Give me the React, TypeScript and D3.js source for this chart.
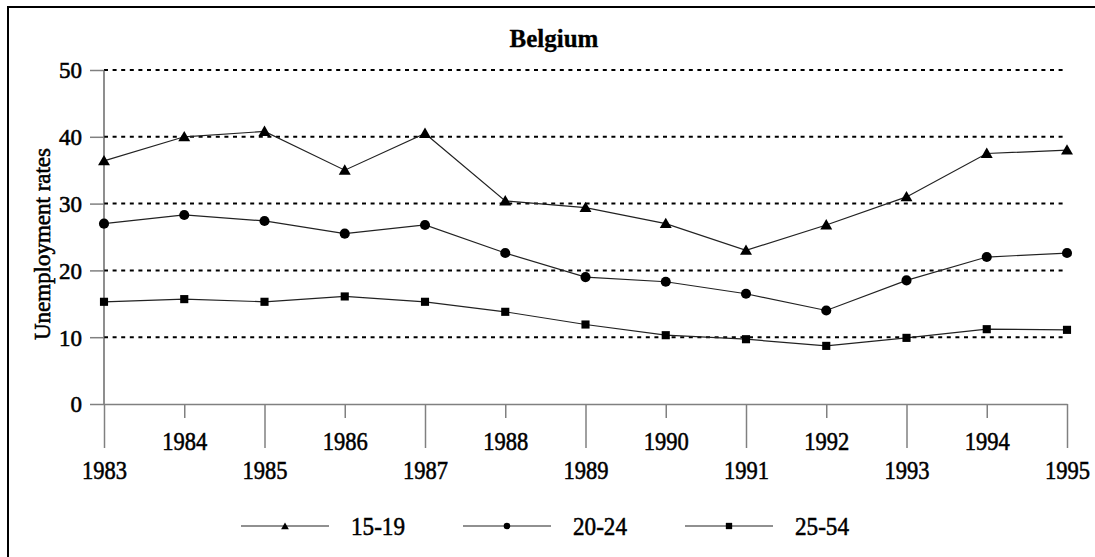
import { useEffect, useRef } from "react";
import * as d3 from "d3";

const years = [1983, 1984, 1985, 1986, 1987, 1988, 1989, 1990, 1991, 1992, 1993, 1994, 1995];
const teens = [36.4, 40.0, 40.8, 35.0, 40.5, 30.4, 29.4, 27.0, 23.0, 26.8, 31.0, 37.5, 38.0];
const young = [27.0, 28.3, 27.4, 25.5, 26.8, 22.6, 19.0, 18.3, 16.5, 14.0, 18.5, 22.0, 22.6];
const adults = [15.3, 15.7, 15.3, 16.1, 15.3, 13.8, 11.9, 10.3, 9.7, 8.7, 9.9, 11.2, 11.1];
const seriesNames = ["15-19", "20-24", "25-54"];
const yTicks = [0, 10, 20, 30, 40, 50];

const W = 1095;
const H = 557;
const FONT = "'Liberation Serif', 'Times New Roman', serif";

// slightly heavier text, like the printed original
function heavy(sel: any) {
  sel.attr("stroke", "black").attr("stroke-width", 0.55).attr("fill", "black");
}

export default function App() {
  const ref = useRef<SVGSVGElement | null>(null);

  useEffect(() => {
    const svg = d3.select(ref.current);
    svg.selectAll("*").remove();

    const x = d3.scaleLinear().domain([1983, 1995]).range([104, 1067]);
    const y = d3.scaleLinear().domain([0, 50]).range([404, 70]);

    // frame
    svg.append("rect")
      .attr("x", 8).attr("y", 7)
      .attr("width", 1100).attr("height", 600)
      .attr("fill", "white").attr("stroke", "black").attr("stroke-width", 2);

    svg.append("text")
      .attr("x", 554).attr("y", 47)
      .attr("text-anchor", "middle")
      .attr("font-family", FONT).attr("font-weight", "bold").attr("font-size", 25)
      .attr("stroke", "black").attr("stroke-width", 0.3)
      .text("Belgium");

    // gridlines
    svg.append("g").selectAll("line")
      .data(yTicks.filter(d => d > 0))
      .enter().append("line")
      .attr("x1", x(1983)).attr("x2", x(1995))
      .attr("y1", d => y(d)).attr("y2", d => y(d))
      .attr("stroke", "black").attr("stroke-width", 2)
      .attr("stroke-dasharray", "4,4.6");

    // y axis
    const yAxis = svg.append("g")
      .attr("transform", `translate(${x(1983)},0)`)
      .call(d3.axisLeft(y).tickValues(yTicks).tickSize(14).tickPadding(8).tickFormat(d3.format("d")));
    yAxis.select(".domain").attr("stroke", "#444").attr("stroke-width", 1.2).attr("d", `M0,${y(50)}V${y(0)}`);
    yAxis.selectAll(".tick line").attr("stroke", "#808080").attr("stroke-width", 1.5);
    yAxis.selectAll(".tick text")
      .attr("font-family", FONT).attr("font-size", 23)
      .attr("dy", "0.34em")
      .call(heavy);

    // x axis
    const xAxis = svg.append("g")
      .attr("transform", `translate(0,${y(0)})`)
      .call(d3.axisBottom(x).tickValues(years).tickSize(0).tickFormat(d3.format("d")));
    xAxis.select(".domain").attr("stroke", "#808080").attr("stroke-width", 1.5);
    xAxis.selectAll(".tick line")
      .attr("stroke", "#808080").attr("stroke-width", 1.5)
      .attr("y2", (d: any, i: number) => (i % 2 === 0 ? 44 : 14));
    xAxis.selectAll(".tick text")
      .attr("font-family", FONT).attr("font-size", 25)
      .attr("textLength", 45).attr("lengthAdjust", "spacingAndGlyphs")
      .attr("dy", null)
      .attr("y", (d: any, i: number) => (i % 2 === 0 ? 75 : 46))
      .call(heavy);

    // y title
    svg.append("text")
      .attr("transform", `translate(50,244) rotate(-90)`)
      .attr("text-anchor", "middle")
      .attr("font-family", FONT).attr("font-size", 23)
      .attr("textLength", 192).attr("lengthAdjust", "spacingAndGlyphs")
      .text("Unemployment rates")
      .call(heavy);

    const series = [teens, young, adults];
    const shapes = [d3.symbolTriangle, d3.symbolCircle, d3.symbolSquare];
    const sizes = [62, 80, 66];
    const legendSizes = [26, 34, 40];

    const line = d3.line<number>()
      .x((d, i) => x(years[i]))
      .y(d => y(d));

    series.forEach((vals, s) => {
      svg.append("path")
        .datum(vals)
        .attr("d", line)
        .attr("fill", "none")
        .attr("stroke", "#222")
        .attr("stroke-width", 1.2);
      svg.append("g").selectAll("path")
        .data(vals)
        .enter().append("path")
        .attr("transform", (d, i) => `translate(${x(years[i])},${y(d) + (s === 0 ? 1 : 0)})`)
        .attr("d", d3.symbol().type(shapes[s]).size(sizes[s])() as string)
        .attr("fill", "black");
    });

    // legend
    const leg = svg.append("g").attr("transform", "translate(0,526)");
    const legX = d3.scalePoint<string>().domain(seriesNames).range([285, 729]);
    seriesNames.forEach((name, s) => {
      const cx = legX(name) as number;
      leg.append("line")
        .attr("x1", cx - 44).attr("x2", cx + 44)
        .attr("stroke", "#222").attr("stroke-width", 1.2);
      leg.append("path")
        .attr("transform", `translate(${cx},${s === 0 ? 1 : 0})`)
        .attr("d", d3.symbol().type(shapes[s]).size(legendSizes[s])() as string)
        .attr("fill", "black");
      leg.append("text")
        .attr("x", cx + 66).attr("y", 0).attr("dy", "0.34em")
        .attr("font-family", FONT).attr("font-size", 26)
        .attr("textLength", 54).attr("lengthAdjust", "spacingAndGlyphs")
        .text(name)
        .call(heavy);
    });
  }, []);

  return (
    <svg
      ref={ref}
      width={W}
      height={H}
      style={{ position: "absolute", left: 0, top: 0, background: "white" }}
    />
  );
}
